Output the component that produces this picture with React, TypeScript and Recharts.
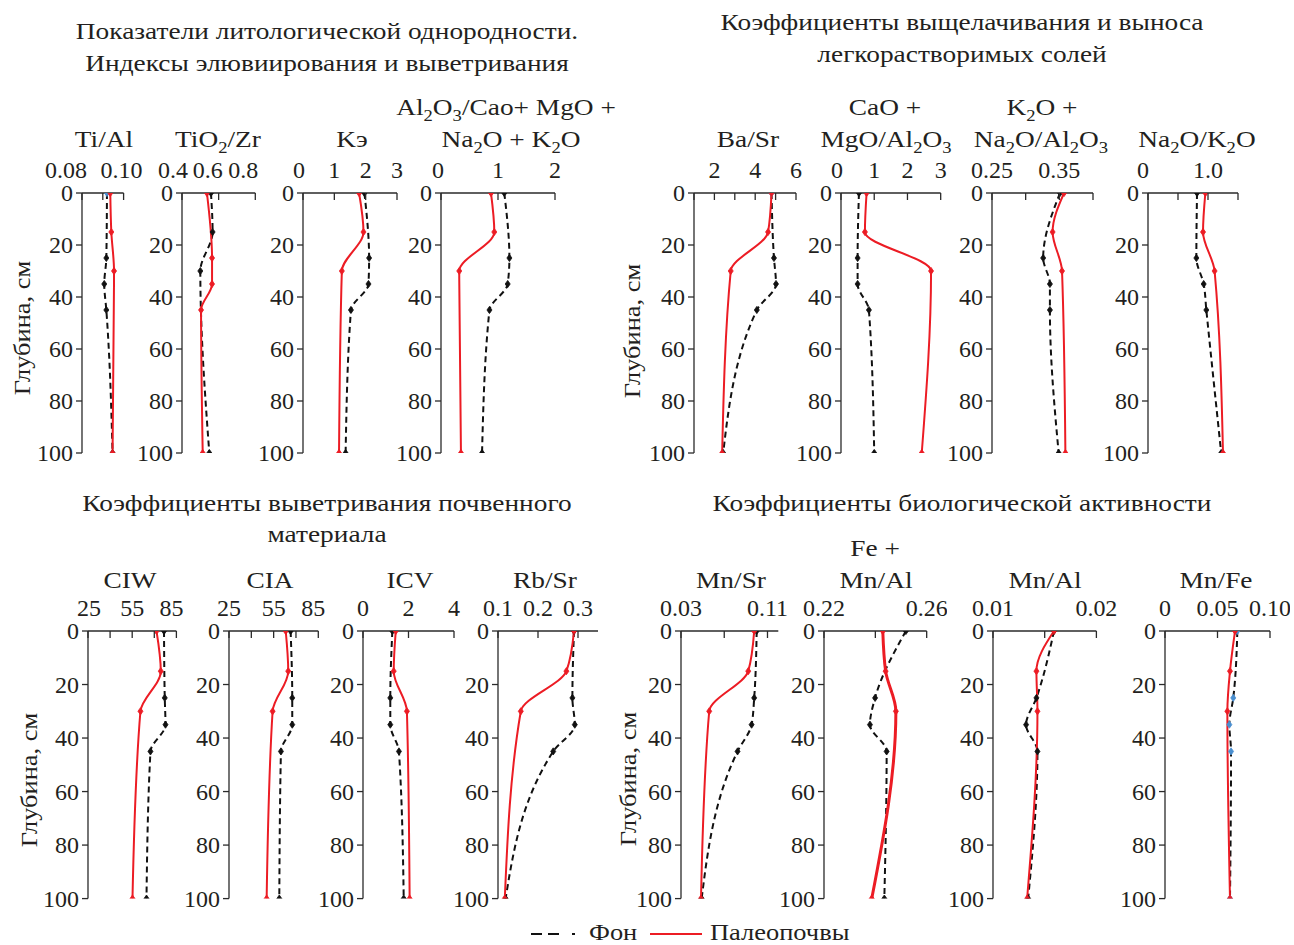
import React from 'react';
import { LineChart, Line, XAxis, YAxis } from 'recharts';

const FONT = '"Liberation Serif", "Times New Roman", serif';
const TXT = '#231f20';
const AX = '#2a2a2a';
const RED = '#ec1c24';
const BLACK = '#111111';
const BLUE = '#4a8fd0';

// depths (cm)
const depthA = [0, 15, 30, 100];
const depthB = [0, 25, 35, 45, 100];
const depthTicks = [0, 20, 40, 60, 80, 100];

// ---- values ----
const tiAlBg = [0.092, 0.0917, 0.0907, 0.0917, 0.0947];
const tiAlPaleo = [0.0936, 0.0941, 0.0954, 0.0947];
const tiZrBg = [0.558, 0.567, 0.5, 0.549];
const tiZrPaleo = [0.536, 0.564, 0.564, 0.504, 0.513];
const keBg = [1.96, 2.11, 2.09, 1.53, 1.36];
const kePaleo = [1.79, 1.93, 1.24, 1.15];
const alBg = [1.11, 1.2, 1.17, 0.85, 0.72];
const alPaleo = [0.877, 0.935, 0.32, 0.35];
const baSrBg = [4.8, 4.92, 5.02, 4.08, 2.43];
const baSrPaleo = [4.8, 4.63, 2.8, 2.38];
const caoBg = [0.54, 0.5, 0.5, 0.84, 1.0];
const caoPaleo = [0.77, 0.72, 2.71, 2.43];
const k2oBg = [0.351, 0.326, 0.336, 0.336, 0.349];
const k2oPaleo = [0.357, 0.34, 0.354, 0.359];
const naKBg = [0.817, 0.806, 0.928, 0.972, 1.22];
const naKPaleo = [0.956, 0.917, 1.11, 1.25];
const ciwBg = [76.6, 77.1, 77.6, 67.4, 64.7];
const ciwPaleo = [71.5, 74.4, 60.6, 55.2];
const ciaBg = [66.4, 67.5, 67.5, 59.9, 58.8];
const ciaPaleo = [63.1, 64.8, 54.3, 50.3];
const icvBg = [1.29, 1.2, 1.2, 1.58, 1.79];
const icvPaleo = [1.44, 1.35, 1.93, 2.05];
const rbSrBg = [0.29, 0.286, 0.292, 0.238, 0.119];
const rbSrPaleo = [0.29, 0.271, 0.157, 0.117];
const mnSrBg = [0.1, 0.0977, 0.0953, 0.0823, 0.0491];
const mnSrPaleo = [0.0977, 0.0922, 0.0561, 0.0485];
const feMnBg = [0.2519, 0.2399, 0.2379, 0.2444, 0.2435];
const feMnPaleo = [0.2429, 0.244, 0.248, 0.2386];
const mnAlBg = [0.0159, 0.0142, 0.0132, 0.0143, 0.0134];
const mnAlPaleo = [0.0159, 0.0142, 0.0143, 0.0133];
const mnFeBg = [0.0689, 0.065, 0.0613, 0.0629, 0.0619];
const mnFePaleo = [0.0667, 0.0619, 0.0594, 0.0619];

// ---- axis ticks and labels ----
const tiAlTicks = [0.08, 0.09, 0.1];
const tiAlLabels = ['0.08', '', '0.10'];
const tiZrTicks = [0.4, 0.6, 0.8];
const tiZrLabels = ['0.4', '0.6', '0.8'];
const keTicks = [0, 1, 2, 3];
const keLabels = ['0', '1', '2', '3'];
const alTicks = [0, 1, 2];
const alLabels = ['0', '1', '2'];
const baSrTicks = [1, 2, 3, 4, 5, 6];
const baSrLabels = ['', '2', '', '4', '', '6'];
const caoTicks = [0, 1, 2, 3];
const caoLabels = ['0', '1', '2', '3'];
const k2oTicks = [0.25, 0.3, 0.35, 0.4];
const k2oLabels = ['0.25', '', '0.35', ''];
const naKTicks = [0, 0.5, 1, 1.5];
const naKLabels = ['0', '', '1.0', ''];
const ciTicks = [25, 40, 55, 70, 85];
const ciLabels = ['25', '', '55', '', '85'];
const icvTicks = [0, 2, 4];
const icvLabels = ['0', '2', '4'];
const rbSrTicks = [0.1, 0.2, 0.3];
const rbSrLabels = ['0.1', '0.2', '0.3'];
const mnSrTicks = [0.03, 0.07, 0.11];
const mnSrLabels = ['0.03', '', '0.11'];
const feMnTicks = [0.22, 0.24, 0.26];
const feMnLabels = ['0.22', '', '0.26'];
const mnAlTicks = [0.01, 0.015, 0.02];
const mnAlLabels = ['0.01', '', '0.02'];
const mnFeTicks = [0, 0.05, 0.1];
const mnFeLabels = ['0', '0.05', '0.10'];

const zip = (depths: number[], vals: number[]) => depths.map((d, i) => ({ depth: d, v: vals[i] }));

type PanelDef = {
  x0: number; x1: number; y0: number; y1: number;
  domain: [number, number]; ticks: number[]; labels: string[];
  bg: { depth: number; v: number }[]; paleo: { depth: number; v: number }[];
  bgDot?: (i: number) => string; redWidth?: number; ldx?: number[];
};

const TOP = [193.3, 453.3];
const BOT = [630.7, 898.3];

const panels: PanelDef[] = [
  { x0: 81.7, x1: 123.3, y0: TOP[0], y1: TOP[1], domain: [0.08, 0.1], ticks: tiAlTicks, labels: tiAlLabels, ldx: [-16, 0, -2], bg: zip(depthB, tiAlBg), paleo: zip(depthA, tiAlPaleo), bgDot: (i) => (i === 0 ? BLUE : BLACK) },
  { x0: 181.7, x1: 255, y0: TOP[0], y1: TOP[1], domain: [0.4, 0.8], ticks: tiZrTicks, labels: tiZrLabels, ldx: [-9, -11, -12], bg: zip(depthA, tiZrBg), paleo: zip(depthB, tiZrPaleo) },
  { x0: 303, x1: 397, y0: TOP[0], y1: TOP[1], domain: [0, 3], ticks: keTicks, labels: keLabels, ldx: [-4, 0, 0, 0], bg: zip(depthB, keBg), paleo: zip(depthA, kePaleo) },
  { x0: 441, x1: 555, y0: TOP[0], y1: TOP[1], domain: [0, 2], ticks: alTicks, labels: alLabels, ldx: [-3, 0, 0], bg: zip(depthB, alBg), paleo: zip(depthA, alPaleo) },
  { x0: 694, x1: 796, y0: TOP[0], y1: TOP[1], domain: [1, 6], ticks: baSrTicks, labels: baSrLabels, bg: zip(depthB, baSrBg), paleo: zip(depthA, baSrPaleo), bgDot: (i) => (i === 0 ? BLUE : BLACK) },
  { x0: 841, x1: 940.7, y0: TOP[0], y1: TOP[1], domain: [0, 3], ticks: caoTicks, labels: caoLabels, ldx: [-4, 0, 0, 0], bg: zip(depthB, caoBg), paleo: zip(depthA, caoPaleo) },
  { x0: 991.7, x1: 1092.7, y0: TOP[0], y1: TOP[1], domain: [0.25, 0.4], ticks: k2oTicks, labels: k2oLabels, bg: zip(depthB, k2oBg), paleo: zip(depthA, k2oPaleo) },
  { x0: 1148.3, x1: 1238.3, y0: TOP[0], y1: TOP[1], domain: [0, 1.5], ticks: naKTicks, labels: naKLabels, ldx: [-5, 0, 0, 0], bg: zip(depthB, naKBg), paleo: zip(depthA, naKPaleo) },
  { x0: 88.3, x1: 176.7, y0: BOT[0], y1: BOT[1], domain: [25, 85], ticks: ciTicks, labels: ciLabels, ldx: [1, 0, 0, 0, -5], bg: zip(depthB, ciwBg), paleo: zip(depthA, ciwPaleo) },
  { x0: 229, x1: 318.3, y0: BOT[0], y1: BOT[1], domain: [25, 85], ticks: ciTicks, labels: ciLabels, ldx: [0, 0, 0, 0, -5], bg: zip(depthB, ciaBg), paleo: zip(depthA, ciaPaleo) },
  { x0: 363.3, x1: 454.3, y0: BOT[0], y1: BOT[1], domain: [0, 4], ticks: icvTicks, labels: icvLabels, bg: zip(depthB, icvBg), paleo: zip(depthA, icvPaleo) },
  { x0: 498.3, x1: 598.3, y0: BOT[0], y1: BOT[1], domain: [0.1, 0.35], ticks: rbSrTicks, labels: rbSrLabels, bg: zip(depthB, rbSrBg), paleo: zip(depthA, rbSrPaleo) },
  { x0: 681, x1: 778.3, y0: BOT[0], y1: BOT[1], domain: [0.03, 0.12], ticks: mnSrTicks, labels: mnSrLabels, bg: zip(depthB, mnSrBg), paleo: zip(depthA, mnSrPaleo) },
  { x0: 824, x1: 926.7, y0: BOT[0], y1: BOT[1], domain: [0.22, 0.26], ticks: feMnTicks, labels: feMnLabels, bg: zip(depthB, feMnBg), paleo: zip(depthA, feMnPaleo), redWidth: 3 },
  { x0: 993.3, x1: 1096.7, y0: BOT[0], y1: BOT[1], domain: [0.01, 0.02], ticks: mnAlTicks, labels: mnAlLabels, bg: zip(depthB, mnAlBg), paleo: zip(depthA, mnAlPaleo) },
  { x0: 1165, x1: 1270, y0: BOT[0], y1: BOT[1], domain: [0, 0.1], ticks: mnFeTicks, labels: mnFeLabels, bg: zip(depthB, mnFeBg), paleo: zip(depthA, mnFePaleo), bgDot: () => BLUE },
];

const YW = 60; // y-axis area width
const XH = 50; // x-axis area height
const FS = 24; // numbers
const TS = 23; // titles
const SX = 1.19; // horizontal stretch of the title font

function diamond(cx: number, cy: number, r: number) {
  return `M${cx},${cy - r}L${cx + r * 0.7},${cy}L${cx},${cy + r}L${cx - r * 0.7},${cy}Z`;
}

function Panel({ p, idx }: { p: PanelDef; idx: number }) {
  const plotW = p.x1 - p.x0;
  const plotH = p.y1 - p.y0;
  const xTick = (props: any) => {
    const { x, payload, index } = props;
    const i = p.ticks.indexOf(payload.value);
    const lab = i >= 0 ? p.labels[i] : '';
    const dx = p.ldx && i >= 0 ? p.ldx[i] : 0;
    return (
      <g key={`xt-${idx}-${index}`}>
        <line x1={x} x2={x} y1={XH} y2={XH + 7} stroke={AX} strokeWidth={1.3} />
        {lab ? (
          <text x={x + dx} y={XH - 15} textAnchor="middle" fontSize={FS} fontFamily={FONT} fill={TXT}>{lab}</text>
        ) : null}
      </g>
    );
  };
  const yTick = (props: any) => {
    const { y, payload, index } = props;
    return (
      <g key={`yt-${idx}-${index}`}>
        <line x1={YW - 6} x2={YW} y1={y} y2={y} stroke={AX} strokeWidth={1.3} />
        <text x={YW - 9} y={y + 8} textAnchor="end" fontSize={FS} fontFamily={FONT} fill={TXT}>{payload.value}</text>
      </g>
    );
  };
  const mkDot = (color: string | ((i: number) => string), r: number, prefix: string) => (props: any) => {
    const { cx, cy, index } = props;
    const c = typeof color === 'function' ? color(index) : color;
    if (cx == null || cy == null) return <g key={`${prefix}-${index}`} />;
    return <path key={`${prefix}-${index}`} d={diamond(cx, cy, r)} fill={c} stroke={c} strokeWidth={0.8} />;
  };
  return (
    <div style={{ position: 'absolute', left: p.x0 - YW, top: p.y0 - XH }}>
      <LineChart
        width={YW + plotW + 20}
        height={XH + plotH + 20}
        layout="vertical"
        margin={{ top: 0, right: 20, bottom: 20, left: 0 }}
      >
        <XAxis
          type="number"
          orientation="top"
          domain={p.domain}
          ticks={p.ticks}
          allowDataOverflow
          height={XH}
          axisLine={{ stroke: AX, strokeWidth: 1.3 }}
          tickLine={false}
          tick={xTick}
          interval={0}
        />
        <YAxis
          type="number"
          dataKey="depth"
          domain={[0, 100]}
          ticks={depthTicks}
          allowDataOverflow
          width={YW}
          axisLine={{ stroke: AX, strokeWidth: 1.3 }}
          tickLine={false}
          tick={yTick}
          interval={0}
        />
        <Line
          data={p.bg}
          dataKey="v"
          type="monotone"
          stroke={BLACK}
          strokeWidth={2}
          strokeDasharray="6 4"
          dot={mkDot(p.bgDot || BLACK, 3.6, `bd${idx}`)}
          activeDot={false}
          isAnimationActive={false}
        />
        <Line
          data={p.paleo}
          dataKey="v"
          type="monotone"
          stroke={RED}
          strokeWidth={p.redWidth || 2}
          dot={mkDot(RED, 3.6, `rd${idx}`)}
          activeDot={false}
          isAnimationActive={false}
        />
      </LineChart>
    </div>
  );
}

function Rich({ text, x, y, size = TS, anchor = 'middle', sx = SX }: { text: string; x: number; y: number; size?: number; anchor?: string; sx?: number }) {
  const parts: { t: string; sub: boolean }[] = [];
  let buf = '';
  for (let i = 0; i < text.length; i++) {
    const c = text[i];
    if (c === '_' && i + 1 < text.length) {
      if (buf) { parts.push({ t: buf, sub: false }); buf = ''; }
      parts.push({ t: text[i + 1], sub: true });
      i++;
    } else buf += c;
  }
  if (buf) parts.push({ t: buf, sub: false });
  let prevSub = false;
  const sh = size * 0.28;
  return (
    <text x={0} y={0} transform={`translate(${x} ${y}) scale(${sx} 1)`} textAnchor={anchor as any} fontSize={size} fontFamily={FONT} fill={TXT} style={{ whiteSpace: 'pre' }}>
      {parts.map((pt, k) => {
        const dy = pt.sub && !prevSub ? sh : !pt.sub && prevSub ? -sh : 0;
        prevSub = pt.sub;
        return (
          <tspan key={k} dy={dy} fontSize={pt.sub ? size * 0.68 : size}>{pt.t}</tspan>
        );
      })}
    </text>
  );
}

const groupTitles = [
  { t: 'Показатели литологической однородности.', x: 327, y: 39 },
  { t: 'Индексы элювиирования и выветривания', x: 327, y: 71 },
  { t: 'Коэффициенты выщелачивания и выноса', x: 962, y: 30 },
  { t: 'легкорастворимых солей', x: 962, y: 62 },
  { t: 'Коэффициенты выветривания почвенного', x: 327, y: 511 },
  { t: 'материала', x: 327, y: 542 },
  { t: 'Коэффициенты биологической активности', x: 962, y: 511 },
];

const panelTitles = [
  { t: 'Ti/Al', x: 104, y: 147 },
  { t: 'TiO_2/Zr', x: 218, y: 147 },
  { t: 'Kэ', x: 352, y: 147 },
  { t: 'Al_2O_3/Cao+ MgO +', x: 506, y: 115 },
  { t: 'Na_2O + K_2O', x: 511, y: 147 },
  { t: 'Ba/Sr', x: 748, y: 147 },
  { t: 'CaO +', x: 885, y: 115 },
  { t: 'MgO/Al_2O_3', x: 886, y: 147 },
  { t: 'K_2O +', x: 1042, y: 115 },
  { t: 'Na_2O/Al_2O_3', x: 1041, y: 147 },
  { t: 'Na_2O/K_2O', x: 1197, y: 147 },
  { t: 'CIW', x: 130, y: 588 },
  { t: 'CIA', x: 270, y: 588 },
  { t: 'ICV', x: 410, y: 588 },
  { t: 'Rb/Sr', x: 545, y: 588 },
  { t: 'Mn/Sr', x: 731, y: 588 },
  { t: 'Fe +', x: 875, y: 556 },
  { t: 'Mn/Al', x: 876, y: 588 },
  { t: 'Mn/Al', x: 1045, y: 588 },
  { t: 'Mn/Fe', x: 1216, y: 588 },
];

const depthLabels = [
  { x: 30, y: 328 },
  { x: 640, y: 331 },
  { x: 37, y: 780 },
  { x: 636, y: 779 },
];

export default function App() {
  return (
    <div style={{ position: 'absolute', left: 0, top: 0, width: 1294, height: 945, background: '#fff', overflow: 'hidden' }}>
      {panels.map((p, i) => (
        <Panel key={i} p={p} idx={i} />
      ))}
      <svg width={1294} height={945} style={{ position: 'absolute', left: 0, top: 0, pointerEvents: 'none' }}>
        {groupTitles.map((g, i) => (
          <text key={`g${i}`} x={0} y={0} transform={`translate(${g.x} ${g.y}) scale(${SX} 1)`} textAnchor="middle" fontSize={TS} fontFamily={FONT} fill={TXT}>{g.t}</text>
        ))}
        {panelTitles.map((g, i) => (
          <Rich key={`p${i}`} text={g.t} x={g.x} y={g.y} />
        ))}
        {depthLabels.map((d, i) => (
          <text key={`d${i}`} x={0} y={0} textAnchor="middle" fontSize={TS} fontFamily={FONT} fill={TXT} transform={`translate(${d.x} ${d.y}) rotate(-90) scale(1.15 1)`}>Глубина, см</text>
        ))}
        <line x1={531} x2={576} y1={934} y2={934} stroke={BLACK} strokeWidth={2.2} strokeDasharray="11 6 11 13 3 20" />
        <text x={0} y={0} transform={`translate(589 940) scale(1.15 1)`} fontSize={TS} fontFamily={FONT} fill={TXT}>Фон</text>
        <line x1={650} x2={702} y1={934} y2={934} stroke={RED} strokeWidth={2} />
        <text x={0} y={0} transform={`translate(710 940) scale(1.15 1)`} fontSize={TS} fontFamily={FONT} fill={TXT}>Палеопочвы</text>
      </svg>
    </div>
  );
}
